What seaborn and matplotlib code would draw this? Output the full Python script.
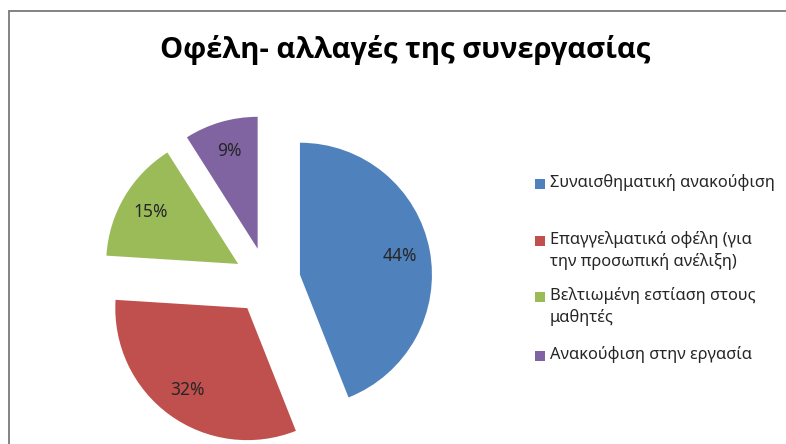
import matplotlib
matplotlib.use("Agg")
import matplotlib.pyplot as plt
from matplotlib.patches import Rectangle
from matplotlib.lines import Line2D
import seaborn as sns

# Data
categories = [
    "Συναισθηματική ανακούφιση",
    "Επαγγελματικά οφέλη (για\nτην προσωπική ανέλιξη)",
    "Βελτιωμένη εστίαση στους\nμαθητές",
    "Ανακούφιση στην εργασία",
]
shares = [44, 32, 15, 9]
title = "Οφέλη- αλλαγές της συνεργασίας"

sns.set_theme(style="white")
plt.rcParams["font.family"] = ["Noto Sans", "DejaVu Sans"]
colors = ["#4F81BD", "#C0504D", "#9BBB59", "#8064A2"]

W, H = 786, 444
fig = plt.figure(figsize=(W / 100, H / 100), dpi=100)
fig.patch.set_facecolor("white")

# Chart-area frame (top and left edges visible)
fig.add_artist(Line2D([9 / W, 1.0], [1 - 11 / H, 1 - 11 / H], color="#7a7a7a", lw=1.3))
fig.add_artist(Line2D([9 / W, 9 / W], [1 - 11 / H, 0.0], color="#7a7a7a", lw=1.3))

# Pie axes: radius 1 corresponds to 132 px, centre at (267, 281) px
R = 132
cx, cy = 267, 281
half = 170
ax = fig.add_axes([(cx - half) / W, (H - cy - half) / H, 2 * half / W, 2 * half / H])
wedges, texts, autotexts = ax.pie(
    shares,
    colors=colors,
    startangle=90,
    counterclock=False,
    explode=[0.254] * len(shares),
    autopct="%1.0f%%",
    pctdistance=0.77,
    wedgeprops=dict(linewidth=0),
    textprops=dict(fontsize=12.5, color="#262626"),
)
lim = half / R
ax.set_xlim(-lim, lim)
ax.set_ylim(-lim, lim)
ax.set_aspect("equal")
ax.axis("off")

# Title
fig.text(405 / W, 1 - 50 / H, title, ha="center", va="center",
         fontsize=21, fontweight="bold", color="black",
         family=["Open Sans", "DejaVu Sans"])

# Legend drawn beside the pie, marker aligned with each entry's first line
entry_y = [184, 241, 297, 356]
sq = 10
for label, color, y in zip(categories, colors, entry_y):
    fig.add_artist(Rectangle((535 / W, 1 - (y + sq / 2) / H), sq / W, sq / H,
                             facecolor=color, edgecolor="none"))
    fig.text(550 / W, 1 - (y - 10) / H, label, ha="left", va="top",
             fontsize=11.8, color="#262626", linespacing=1.35)

fig.savefig("out.png", dpi=100, facecolor="white")
